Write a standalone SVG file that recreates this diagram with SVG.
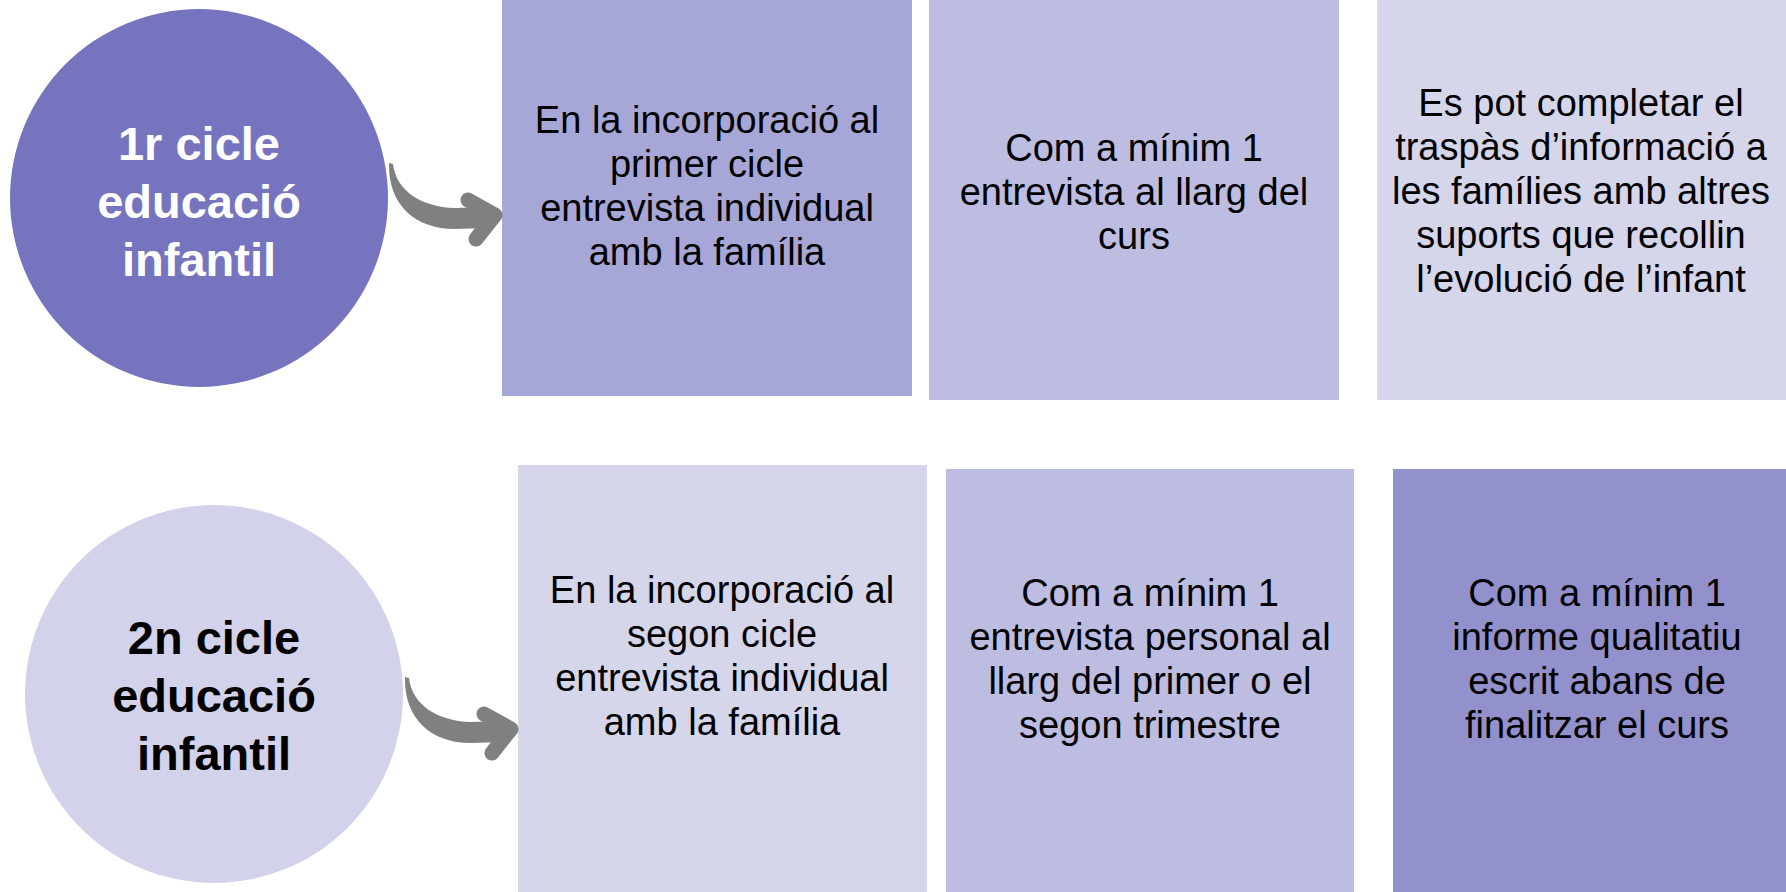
<svg xmlns="http://www.w3.org/2000/svg" width="1786" height="892" viewBox="0 0 1786 892">
<defs>
<style>
.t{font-family:"Liberation Sans",Arial,sans-serif;font-size:38px;fill:#000;text-anchor:middle}
.c{font-family:"Liberation Sans",Arial,sans-serif;font-size:47px;font-weight:bold;text-anchor:middle}
.shaft{fill:#808080}
.head{fill:none;stroke:#808080;stroke-width:15;stroke-linecap:round;stroke-linejoin:round}
</style>
<g id="arrowShape">
<path class="shaft" d="M389,163 L393,164 C396,190 420,207 455,208 L485,207 L487,228 L455,229 C415,229 388,205 389,163 Z"/>
<polyline class="head" points="468,200 495,215 476,239"/>
</g>
</defs>
<rect width="1786" height="892" fill="#fff"/>
<g id="circle1">
<circle cx="199" cy="198" r="189" fill="#7674BF"/>
<text class="c" fill="#fff"><tspan x="199" y="160">1r cicle</tspan><tspan x="199" y="218">educació</tspan><tspan x="199" y="276">infantil</tspan></text>
</g>
<g id="box1">
<rect x="502" y="0" width="410" height="396" fill="#A7A7D7"/>
<text class="t"><tspan x="707" y="133">En la incorporació al</tspan><tspan x="707" y="177">primer cicle</tspan><tspan x="707" y="221">entrevista individual</tspan><tspan x="707" y="265">amb la família</tspan></text>
</g>
<g id="box2">
<rect x="929" y="0" width="410" height="400" fill="#BDBDE1"/>
<text class="t"><tspan x="1134" y="161">Com a mínim 1</tspan><tspan x="1134" y="205">entrevista al llarg del</tspan><tspan x="1134" y="249">curs</tspan></text>
</g>
<g id="box3">
<rect x="1377" y="0" width="409" height="400" fill="#D6D6EB"/>
<text class="t"><tspan x="1581" y="116">Es pot completar el</tspan><tspan x="1581" y="160">traspàs d’informació a</tspan><tspan x="1581" y="204">les famílies amb altres</tspan><tspan x="1581" y="248">suports que recollin</tspan><tspan x="1581" y="292">l’evolució de l’infant</tspan></text>
</g>
<g id="circle2">
<circle cx="214" cy="694" r="189" fill="#D2D2EA"/>
<text class="c" fill="#000"><tspan x="214" y="654">2n cicle</tspan><tspan x="214" y="712">educació</tspan><tspan x="214" y="770">infantil</tspan></text>
</g>
<g id="box4">
<rect x="518" y="465" width="409" height="427" fill="#D6D6EB"/>
<text class="t"><tspan x="722" y="603">En la incorporació al</tspan><tspan x="722" y="647">segon cicle</tspan><tspan x="722" y="691">entrevista individual</tspan><tspan x="722" y="735">amb la família</tspan></text>
</g>
<g id="box5">
<rect x="946" y="469" width="408" height="423" fill="#BDBDE1"/>
<text class="t"><tspan x="1150" y="606">Com a mínim 1</tspan><tspan x="1150" y="650">entrevista personal al</tspan><tspan x="1150" y="694">llarg del primer o el</tspan><tspan x="1150" y="738">segon trimestre</tspan></text>
</g>
<g id="box6">
<rect x="1393" y="469" width="393" height="423" fill="#9391CB"/>
<text class="t"><tspan x="1597" y="606">Com a mínim 1</tspan><tspan x="1597" y="650">informe qualitatiu</tspan><tspan x="1597" y="694">escrit abans de</tspan><tspan x="1597" y="738">finalitzar el curs</tspan></text>
</g>
<g id="connectors">
<use href="#arrowShape"/>
<use href="#arrowShape" transform="translate(16,514)"/>
</g>
</svg>
